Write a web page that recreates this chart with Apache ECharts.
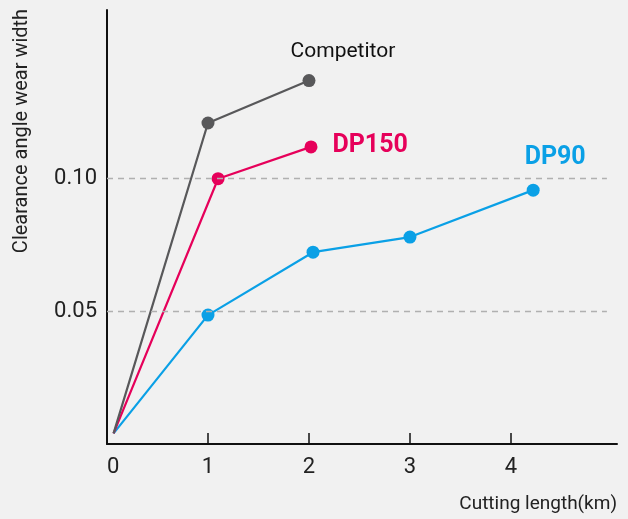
<!DOCTYPE html>
<html>
<head>
<meta charset="utf-8">
<script src="https://cdn.jsdelivr.net/npm/echarts@6/dist/echarts.min.js"></script>
<style>
  html, body { margin: 0; padding: 0; background: #f1f1f1; }
  #main { width: 628px; height: 519px; }
</style>
</head>
<body>
<div id="main"></div>
<script>
// values: [cutting length km, wear width]
const competitor = [[0.065, 0.004], [1.0, 0.121], [2.0, 0.137]];
const dp150 = [[0.065, 0.004], [1.1, 0.100], [2.02, 0.112]];
const dp90 = [[0.065, 0.004], [1.0, 0.0486], [2.04, 0.0723], [3.0, 0.078], [4.22, 0.0957]];
const xTicks = [1, 2, 3, 4];
const xLabels = [0, 1, 2, 3, 4];
const yLabels = [0.05, 0.10];

const font = 'Roboto, "Liberation Sans", sans-serif';
const chart = echarts.init(document.getElementById('main'));

function lastLabel (data, label) {
  return data.map((d, i) => i === data.length - 1 ? { value: d, label: label } : d);
}

const option = {
  backgroundColor: '#f1f1f1',
  animation: false,
  grid: { left: 107, right: 11, top: 10, bottom: 75 },
  xAxis: {
    type: 'value',
    min: 0,
    max: 5.05,
    axisLine: { lineStyle: { color: '#111', width: 2 } },
    axisTick: { show: true, inside: true, length: 11, customValues: xTicks, lineStyle: { color: '#111', width: 1.5 } },
    axisLabel: { customValues: xLabels, alignMinLabel: 'left', margin: 12, color: '#222', fontSize: 22, fontFamily: font },
    splitLine: { show: false }
  },
  yAxis: {
    type: 'value',
    min: 0,
    max: 0.1636,
    axisLine: { show: true, lineStyle: { color: '#111', width: 2 } },
    axisTick: { show: false },
    axisLabel: {
      customValues: yLabels,
      margin: 10,
      color: '#222',
      fontSize: 22,
      fontFamily: font,
      formatter: v => v.toFixed(2)
    },
    splitLine: { show: false }
  },
  graphic: [
    {
      type: 'text',
      x: 22, y: 131,
      rotation: Math.PI / 2,
      style: { text: 'Clearance angle wear width', fill: '#222', font: '20px ' + font, align: 'center', verticalAlign: 'middle' }
    },
    {
      type: 'text',
      x: 617, y: 504,
      style: { text: 'Cutting length(km)', fill: '#222', font: '19px ' + font, align: 'right', verticalAlign: 'middle' }
    }
  ],
  series: [
    {
      name: 'DP90',
      type: 'line',
      data: lastLabel(dp90, {
        show: true, formatter: 'DP90', position: 'top', offset: [22, -8],
        color: '#0aa0e6', fontSize: 25, fontWeight: 'bold', fontFamily: font
      }),
      symbol: 'circle',
      symbolSize: 13,
      showSymbol: true,
      itemStyle: { color: '#0aa0e6' },
      lineStyle: { color: '#0aa0e6', width: 2.2 },
      markLine: {
        silent: true,
        symbol: 'none',
        label: { show: false },
        lineStyle: { color: '#b0b0b0', type: [6, 5], width: 1.3 },
        data: yLabels.map(v => [{ coord: [0, v] }, { coord: [4.95, v] }])
      }
    },
    {
      name: 'DP150',
      type: 'line',
      data: lastLabel(dp150, {
        show: true, formatter: 'DP150', position: 'right', offset: [10, -1],
        color: '#e6005a', fontSize: 25, fontWeight: 'bold', fontFamily: font
      }),
      symbol: 'circle',
      symbolSize: 13,
      itemStyle: { color: '#e6005a' },
      lineStyle: { color: '#e6005a', width: 2.2 }
    },
    {
      name: 'Competitor',
      type: 'line',
      data: lastLabel(competitor, {
        show: true, formatter: 'Competitor', position: 'top', offset: [34, -7],
        color: '#111', fontSize: 21, fontFamily: font
      }),
      symbol: 'circle',
      symbolSize: 13,
      itemStyle: { color: '#58585a' },
      lineStyle: { color: '#58585a', width: 2.2 }
    }
  ]
};

// hide the symbol at the shared start point
option.series.forEach(s => {
  s.data[0] = { value: s.data[0], symbolSize: 0 };
});

chart.setOption(option);
</script>
</body>
</html>
